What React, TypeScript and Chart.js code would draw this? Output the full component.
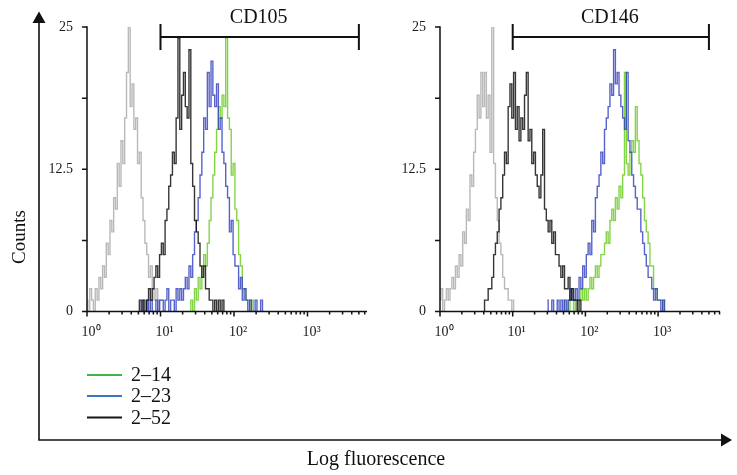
import React, { useEffect, useRef } from 'react';
import { Chart, registerables } from 'chart.js';

Chart.register(...registerables);

const CANVAS_W = 737;
const CANVAS_H = 475;
const SERIF = '"Liberation Serif", "Times New Roman", Times, serif';

// histogram channel width, in decades of fluorescence
const CHANNEL_STEP = 0.025;

const Y_TICK_VALUES = [0, 6.25, 12.5, 18.75, 25];
const Y_TICK_LABELS = ['0', '', '12.5', '', '25'];
const X_DECADES = [1, 10, 100, 1000];
const X_DECADE_LABELS = ['10⁰', '10¹', '10²', '10³'];
const BRACKET_RANGE = [10, 5000];

const Y_AXIS_TITLE = 'Counts';
const X_AXIS_TITLE = 'Log fluorescence';
const SERIES_NAMES = ['2–14', '2–23', '2–52'];
const LEGEND_COLORS = ['#3db54b', '#3b75bd', '#151515'];

const ISO_COLOR = 'rgba(168,168,168,0.8)';
const GREEN_COLOR = 'rgba(110,205,40,0.85)';
const BLUE_COLOR = 'rgba(45,60,190,0.8)';
const BLACK_COLOR = 'rgba(10,10,10,0.82)';

// ---- CD105 panel ----
const CD105_TITLE = 'CD105';
const CD105_XMAX = 6450;
const CD105_ISO_START = 0;
const CD105_ISO = [1, 0, 2, 1, 0, 2, 1, 3, 2, 4, 3, 6, 5, 8, 7, 10, 9, 13, 11, 15, 13, 17, 21, 25, 18, 20, 16, 17, 13, 14, 10, 8, 6, 5, 3, 4, 2, 1, 2, 0, 1, 1];
const CD105_252_START = 28;
const CD105_252 = [0, 1, 0, 1, 0, 1, 2, 1, 2, 3, 4, 3, 5, 6, 5, 8, 9, 11, 12, 14, 13, 17, 24, 16, 19, 21, 18, 17, 23, 13, 11, 8, 7, 6, 4, 3, 4, 2, 2, 1, 1, 0, 1, 0, 1, 0, 1, 0];
const CD105_223_START = 30;
const CD105_223 = [1, 0, 0, 1, 0, 1, 0, 0, 1, 0, 1, 1, 0, 1, 2, 0, 1, 1, 0, 2, 1, 2, 1, 2, 3, 2, 4, 3, 5, 7, 8, 10, 12, 14, 17, 16, 21, 18, 22, 19, 18, 20, 16, 17, 14, 13, 11, 10, 7, 8, 5, 4, 4, 2, 3, 1, 2, 1, 0, 1, 0, 0, 1, 0, 0, 1, 0];
const CD105_214_START = 56;
const CD105_214 = [0, 1, 0, 2, 1, 3, 2, 4, 5, 4, 6, 8, 10, 12, 14, 16, 18, 17, 19, 18, 24, 17, 16, 12, 13, 9, 8, 5, 4, 2, 2, 1, 1, 0, 1, 0];

// ---- CD146 panel ----
const CD146_TITLE = 'CD146';
const CD146_XMAX = 7100;
const CD146_ISO_START = 0;
const CD146_ISO = [1, 2, 0, 1, 2, 1, 2, 3, 2, 4, 3, 5, 4, 7, 6, 9, 8, 12, 11, 14, 16, 19, 17, 21, 18, 21, 17, 19, 14, 25, 13, 10, 8, 6, 5, 3, 2, 2, 1, 1, 0, 1];
const CD146_252_START = 24;
const CD146_252 = [0, 1, 1, 2, 2, 3, 5, 6, 7, 9, 10, 12, 14, 13, 18, 20, 17, 21, 16, 18, 15, 17, 16, 19, 21, 15, 16, 13, 14, 12, 11, 10, 12, 16, 9, 8, 7, 8, 6, 7, 5, 5, 4, 3, 4, 2, 2, 3, 1, 2, 1, 1, 0, 1, 0];
const CD146_223_START = 59;
const CD146_223 = [1, 0, 0, 1, 0, 0, 1, 0, 1, 0, 1, 0, 1, 2, 1, 1, 2, 1, 3, 2, 4, 3, 5, 6, 5, 8, 7, 10, 11, 12, 14, 13, 16, 17, 18, 20, 19, 23, 20, 21, 19, 18, 17, 16, 21, 15, 14, 12, 11, 10, 9, 9, 7, 6, 5, 4, 3, 3, 2, 1, 2, 1, 1, 0, 1, 0];
const CD146_214_START = 68;
const CD146_214 = [1, 0, 0, 1, 0, 0, 1, 0, 1, 1, 2, 1, 2, 1, 2, 3, 2, 3, 4, 3, 4, 5, 5, 6, 7, 6, 8, 9, 8, 10, 9, 11, 10, 12, 21, 13, 12, 14, 15, 14, 18, 15, 13, 12, 10, 8, 7, 6, 4, 4, 2, 2, 1, 1, 1, 0, 1];

type Series = { color: string; start: number; counts: number[] };
type Panel = { title: string; left: number; right: number; xMax: number; series: Series[] };

// layout (pixels)
const PLOT_TOP = 27;
const PLOT_BOTTOM = 311.5;
const X_AXIS_H = 40;

const LEFT_PANEL: Panel = {
  title: CD105_TITLE,
  left: 87,
  right: 367,
  xMax: CD105_XMAX,
  series: [
    { color: BLACK_COLOR, start: CD105_252_START, counts: CD105_252 },
    { color: BLUE_COLOR, start: CD105_223_START, counts: CD105_223 },
    { color: GREEN_COLOR, start: CD105_214_START, counts: CD105_214 },
    { color: ISO_COLOR, start: CD105_ISO_START, counts: CD105_ISO },
  ],
};

const RIGHT_PANEL: Panel = {
  title: CD146_TITLE,
  left: 440,
  right: 720,
  xMax: CD146_XMAX,
  series: [
    { color: BLACK_COLOR, start: CD146_252_START, counts: CD146_252 },
    { color: BLUE_COLOR, start: CD146_223_START, counts: CD146_223 },
    { color: GREEN_COLOR, start: CD146_214_START, counts: CD146_214 },
    { color: ISO_COLOR, start: CD146_ISO_START, counts: CD146_ISO },
  ],
};

function toPoints(start: number, counts: number[]) {
  return counts.map((c, i) => ({ x: Math.pow(10, (start + i) * CHANNEL_STEP), y: c }));
}

function logTickValues(max: number) {
  const out: number[] = [];
  for (let d = 0; d < 4; d++) {
    for (let m = 1; m <= 9; m++) {
      const v = m * Math.pow(10, d);
      if (v <= max) out.push(v);
    }
  }
  return out;
}

function panelPlugin(panel: Panel) {
  return {
    id: 'panelDecor',
    afterDraw(chart: any) {
      const { ctx, chartArea: a } = chart;
      const x = chart.scales.x;
      const y = chart.scales.y;
      ctx.save();
      ctx.strokeStyle = '#111';
      ctx.lineWidth = 1.5;
      const yTop = y.getPixelForValue(25);
      ctx.beginPath();
      ctx.moveTo(a.left, yTop - 0.75);
      ctx.lineTo(a.left, a.bottom);
      ctx.lineTo(a.right, a.bottom);
      ctx.stroke();
      ctx.beginPath();
      for (const v of Y_TICK_VALUES) {
        const py = y.getPixelForValue(v);
        ctx.moveTo(a.left - 5, py);
        ctx.lineTo(a.left, py);
      }
      for (const t of x.ticks) {
        const px = x.getPixelForValue(t.value);
        const major = X_DECADES.includes(t.value);
        ctx.moveTo(px, a.bottom);
        ctx.lineTo(px, a.bottom + (major ? 5 : 3));
      }
      ctx.stroke();
      // bracket
      const b0 = x.getPixelForValue(BRACKET_RANGE[0]);
      const b1 = x.getPixelForValue(BRACKET_RANGE[1]);
      const by = a.top + 10;
      ctx.lineWidth = 2;
      ctx.beginPath();
      ctx.moveTo(b0, by);
      ctx.lineTo(b1, by);
      ctx.moveTo(b0, by - 13);
      ctx.lineTo(b0, by + 13);
      ctx.moveTo(b1, by - 13);
      ctx.lineTo(b1, by + 13);
      ctx.stroke();
      ctx.fillStyle = '#111';
      ctx.font = `20px ${SERIF}`;
      ctx.textAlign = 'center';
      ctx.textBaseline = 'alphabetic';
      ctx.fillText(panel.title, (b0 + b1) / 2 - 1, 23);
      ctx.restore();
    },
  };
}

const framePlugin = {
  id: 'frameDecor',
  afterDraw(chart: any) {
    const ctx = chart.ctx;
    ctx.save();
    ctx.strokeStyle = '#111';
    ctx.fillStyle = '#111';
    ctx.lineWidth = 1.6;
    ctx.beginPath();
    ctx.moveTo(39, 22);
    ctx.lineTo(39, 440);
    ctx.lineTo(722, 440);
    ctx.stroke();
    ctx.beginPath();
    ctx.moveTo(39, 11.5);
    ctx.lineTo(32.5, 23);
    ctx.lineTo(45.5, 23);
    ctx.closePath();
    ctx.fill();
    ctx.beginPath();
    ctx.moveTo(732, 440);
    ctx.lineTo(721, 433.5);
    ctx.lineTo(721, 446.5);
    ctx.closePath();
    ctx.fill();

    ctx.textAlign = 'center';
    ctx.textBaseline = 'middle';
    ctx.font = `20px ${SERIF}`;
    ctx.fillText(X_AXIS_TITLE, 376, 460);
    ctx.font = `19px ${SERIF}`;
    ctx.save();
    ctx.translate(20, 237);
    ctx.rotate(-Math.PI / 2);
    ctx.fillText(Y_AXIS_TITLE, 0, 0);
    ctx.restore();

    // legend
    const legendY = [375, 396, 417.5];
    ctx.font = `20px ${SERIF}`;
    ctx.textAlign = 'left';
    ctx.lineWidth = 2;
    SERIES_NAMES.forEach((name, i) => {
      ctx.strokeStyle = LEGEND_COLORS[i];
      ctx.beginPath();
      ctx.moveTo(87, legendY[i]);
      ctx.lineTo(122, legendY[i]);
      ctx.stroke();
      ctx.fillStyle = '#111';
      ctx.fillText(name, 131, legendY[i] + 1);
    });
    ctx.restore();
  },
};

function makeConfig(panel: Panel, withFrame: boolean): any {
  const tickFont = { family: SERIF, size: 14 };
  return {
    type: 'line',
    data: {
      datasets: panel.series.map((s) => ({
        data: toPoints(s.start, s.counts),
        borderColor: s.color,
        borderWidth: 1.4,
        pointRadius: 0,
        tension: 0,
        stepped: 'middle',
        fill: false,
      })),
    },
    options: {
      responsive: false,
      animation: false,
      events: [],
      layout: {
        padding: {
          left: 0,
          top: PLOT_TOP,
          right: CANVAS_W - panel.right,
          bottom: CANVAS_H - PLOT_BOTTOM - X_AXIS_H,
        },
      },
      plugins: {
        legend: { display: false },
        tooltip: { enabled: false },
        title: { display: false },
      },
      scales: {
        x: {
          type: 'logarithmic',
          position: 'bottom',
          min: 1,
          max: panel.xMax,
          bounds: 'data',
          grid: { display: false, drawTicks: false },
          border: { display: false },
          afterBuildTicks: (s: any) => {
            s.ticks = logTickValues(panel.xMax).map((v) => ({ value: v }));
          },
          afterFit: (s: any) => {
            s.height = X_AXIS_H;
          },
          ticks: {
            autoSkip: false,
            maxRotation: 0,
            minRotation: 0,
            padding: 12,
            labelOffset: 4,
            font: tickFont,
            color: '#1a1a1a',
            callback: (v: any) => {
              const i = X_DECADES.indexOf(Number(v));
              return i >= 0 ? X_DECADE_LABELS[i] : '';
            },
          },
        },
        y: {
          type: 'linear',
          min: 0,
          max: 25,
          bounds: 'data',
          grid: { display: false, drawTicks: false },
          border: { display: false },
          afterBuildTicks: (s: any) => {
            s.ticks = Y_TICK_VALUES.map((v) => ({ value: v }));
          },
          afterFit: (s: any) => {
            s.width = panel.left;
          },
          ticks: {
            autoSkip: false,
            padding: 14,
            font: tickFont,
            color: '#1a1a1a',
            callback: (v: any) => {
              const i = Y_TICK_VALUES.indexOf(Number(v));
              return i >= 0 ? Y_TICK_LABELS[i] : '';
            },
          },
        },
      },
    },
    plugins: withFrame ? [panelPlugin(panel), framePlugin] : [panelPlugin(panel)],
  };
}

export default function App() {
  const leftRef = useRef<HTMLCanvasElement>(null);
  const rightRef = useRef<HTMLCanvasElement>(null);

  useEffect(() => {
    document.body.style.margin = '0';
    const c1 = new Chart(leftRef.current as HTMLCanvasElement, makeConfig(LEFT_PANEL, true));
    const c2 = new Chart(rightRef.current as HTMLCanvasElement, makeConfig(RIGHT_PANEL, false));
    return () => {
      c1.destroy();
      c2.destroy();
    };
  }, []);

  const canvasStyle: React.CSSProperties = { position: 'absolute', left: 0, top: 0 };
  return (
    <div style={{ position: 'relative', width: CANVAS_W, height: CANVAS_H, background: '#fff' }}>
      <canvas ref={leftRef} width={CANVAS_W} height={CANVAS_H} style={canvasStyle} />
      <canvas ref={rightRef} width={CANVAS_W} height={CANVAS_H} style={canvasStyle} />
    </div>
  );
}
